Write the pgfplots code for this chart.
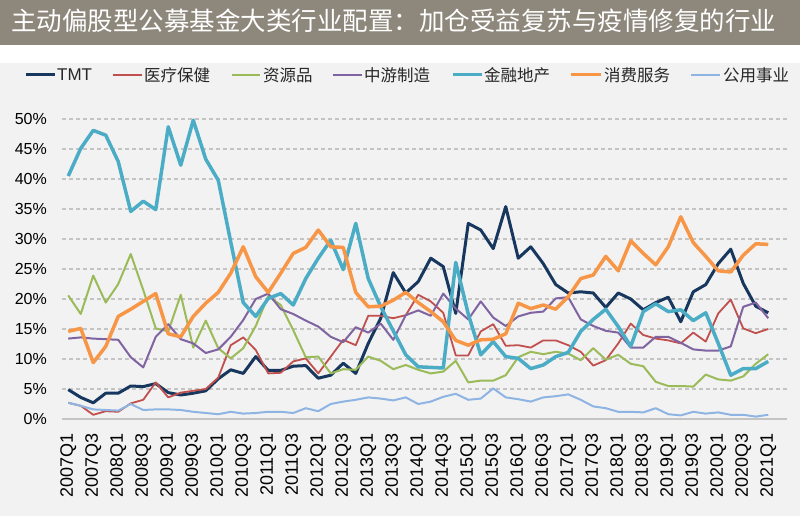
\documentclass[border=0pt]{standalone}
\usepackage{fontspec}
\setmainfont{Liberation Sans}
\newfontfamily\cjk{Noto Sans CJK SC}
\usepackage{pgfplots}
\usepackage{pgfplotstable}
\pgfplotsset{compat=1.18}
\usetikzlibrary{backgrounds}

\definecolor{titlebg}{RGB}{142,135,124}
\definecolor{panel}{RGB}{242,242,242}
\definecolor{gridc}{RGB}{196,196,196}
\definecolor{ctmt}{RGB}{23,55,94}
\definecolor{cmed}{RGB}{192,80,77}
\definecolor{cres}{RGB}{155,187,89}
\definecolor{cmid}{RGB}{128,100,162}
\definecolor{cfin}{RGB}{75,172,198}
\definecolor{ccon}{RGB}{247,150,70}
\definecolor{cutil}{RGB}{141,180,226}

% i = quarter index from 2007Q1; shares in %
\pgfplotstableread{
i  tmt  med  res  mid  fin  con  util
0  4.9  2.7  20.6 13.4 40.5 14.6 2.7
1  3.6  2.2  17.5 13.6 45.1 15.1 2.2
2  2.7  0.7  23.9 13.4 48.1 9.4  1.6
3  4.3  1.3  19.4 13.3 47.3 12.1 1.5
4  4.3  1.2  22.5 13.2 42.9 17.1 1.4
5  5.5  2.6  27.5 10.3 34.6 18.3 2.5
6  5.4  3.2  21.5 8.6  36.3 19.6 1.5
7  5.9  6.1  15.1 13.7 34.9 20.9 1.6
8  4.4  3.6  14.6 15.8 48.7 14.2 1.6
9  4.0  4.4  20.7 13.3 42.3 13.7 1.5
10 4.3  4.7  11.9 12.6 49.8 17.1 1.2
11 4.7  5.0  16.4 11.0 43.3 19.3 1.0
12 6.7  6.9  11.8 11.6 39.8 21.1 0.8
13 8.2  12.3 10.1 13.7 29.5 24.3 1.2
14 7.6  13.6 11.8 16.5 19.4 28.7 0.9
15 10.4 11.5 15.5 20.0 17.1 23.7 1.0
16 8.1  7.6  20.5 20.9 20.1 21.1 1.2
17 8.1  7.7  19.0 18.3 20.9 24.3 1.2
18 8.8  9.6  14.8 17.5 19.0 27.6 1.0
19 8.9  10.1 10.3 16.4 23.4 28.6 1.8
20 6.8  7.6  10.4 15.4 26.8 31.5 1.3
21 7.3  10.4 7.6  13.7 29.8 28.7 2.5
22 9.3  13.2 8.3  12.8 24.9 28.6 2.9
23 7.6  12.3 8.2  15.3 32.6 21.1 3.2
24 12.6 17.2 10.4 14.4 23.4 18.7 3.6
25 16.8 17.2 9.7  15.9 18.7 18.8 3.4
26 24.4 16.8 8.3  13.2 14.7 19.8 3.1
27 21.0 17.3 9.0  17.3 10.7 21.1 3.6
28 22.9 20.7 8.2  18.1 8.7  19.4 2.5
29 26.8 19.6 7.6  17.2 8.6  17.9 2.9
30 25.4 17.7 7.9  20.9 8.5  16.2 3.7
31 17.6 10.6 9.7  18.4 26.1 13.1 4.2
32 32.6 10.6 6.1  16.6 17.5 12.3 3.2
33 31.5 14.6 6.4  19.6 10.7 13.2 3.4
34 28.4 15.8 6.4  16.9 12.9 13.3 5.1
35 35.4 12.2 7.3  15.5 10.4 14.2 3.6
36 26.8 12.3 10.3 17.1 10.1 19.3 3.3
37 28.7 11.9 11.2 17.7 8.4  18.4 2.9
38 25.9 13.1 10.8 17.9 9.0  19.0 3.6
39 22.4 13.1 11.2 20.1 10.4 18.3 3.8
40 21.0 12.3 10.9 20.3 11.1 20.4 4.1
41 21.2 11.2 9.8  16.6 14.6 23.4 3.2
42 21.0 8.9  11.8 15.5 16.6 24.0 2.1
43 18.6 9.8  9.9  14.7 18.3 27.1 1.8
44 21.0 12.6 10.7 14.4 15.4 24.7 1.2
45 20.0 15.9 9.2  11.9 12.1 29.7 1.2
46 18.2 14.0 8.8  11.9 17.9 27.6 1.1
47 19.4 13.4 6.2  13.7 19.2 25.7 1.8
48 20.3 13.1 5.5  13.7 17.9 28.7 0.8
49 16.2 12.6 5.5  12.7 18.2 33.7 0.6
50 21.2 14.4 5.4  11.6 16.4 29.4 1.2
51 22.4 12.9 7.4  11.4 17.7 27.1 0.9
52 25.9 17.6 6.6  11.4 12.6 24.7 1.1
53 28.3 19.9 6.4  12.1 7.3  24.5 0.7
54 22.6 15.1 7.1  18.7 8.4  27.3 0.7
55 18.8 14.3 9.2  19.4 8.4  29.2 0.4
56 17.7 15.0 10.8 16.8 9.6  29.1 0.7
}\datatable

\begin{document}
\begin{tikzpicture}
\begin{axis}[
  scale only axis, width=725pt, height=300pt,
  xmin=-0.5, xmax=57.5, ymin=0, ymax=50,
  clip=false,
  axis line style={draw=none},
  major tick length=0pt,
  ytick={0,5,...,50},
  yticklabels={0\%,5\%,10\%,15\%,20\%,25\%,30\%,35\%,40\%,45\%,50\%},
  yticklabel style={anchor=east, inner xsep=15pt, inner ysep=0pt, font=\fontsize{16}{16}\selectfont, text=black},
  xtick={0,2,...,56},
  xticklabels={2007Q1,2007Q3,2008Q1,2008Q3,2009Q1,2009Q3,2010Q1,2010Q3,2011Q1,2011Q3,2012Q1,2012Q3,2013Q1,2013Q3,2014Q1,2014Q3,2015Q1,2015Q3,2016Q1,2016Q3,2017Q1,2017Q3,2018Q1,2018Q3,2019Q1,2019Q3,2020Q1,2020Q3,2021Q1},
  xticklabel style={rotate=90, anchor=east, inner xsep=14pt, inner ysep=0pt, font=\fontsize{18}{18}\selectfont, text=black},
  every axis plot/.append style={line join=round, mark=none},
]
\coordinate (O) at (rel axis cs:0,0);
\addplot[ctmt, line width=3pt] table[x=i, y=tmt] {\datatable};
\addplot[cmed, line width=1.8pt] table[x=i, y=med] {\datatable};
\addplot[cres, line width=2pt] table[x=i, y=res] {\datatable};
\addplot[cmid, line width=2pt] table[x=i, y=mid] {\datatable};
\addplot[cfin, line width=3.5pt] table[x=i, y=fin] {\datatable};
\addplot[ccon, line width=3.5pt] table[x=i, y=con] {\datatable};
\addplot[cutil, line width=2pt] table[x=i, y=util] {\datatable};
\end{axis}

% page frame in pixel units, origin at the page's lower left corner
\begin{scope}[shift={(O)}, xshift=-62pt, yshift=-97pt, x=1pt, y=1pt]
\begin{scope}[on background layer]
\fill[panel] (0,0) rectangle (800,453);
\fill[white] (0,453) rectangle (800,471);
\fill[titlebg] (0,471) rectangle (800,516);
% horizontal grid: 6 px per percentage point, 0% at y=97
\foreach \k in {1,...,10}
  \draw[gridc, line width=1.5pt, dash pattern=on 4pt off 3pt] (62,97+30*\k) -- (787,97+30*\k);
\draw[gridc, line width=2pt] (62,97) -- (787,97);
\end{scope}
\node[anchor=west, inner sep=0pt, text=white, font=\cjk\fontsize{25.5}{26}\selectfont] at (11,495) {主动偏股型公募基金大类行业配置：加仓受益复苏与疫情修复的行业};

\begin{scope}[font=\cjk\fontsize{16.5}{17}\selectfont, every node/.style={anchor=west, inner sep=0pt, text=black!85}]
\draw[ctmt, line width=3pt] (26,441) -- (55,441);
\node[font=\fontsize{17}{17}\selectfont] at (57,441) {TMT};
\draw[cmed, line width=2pt] (113,441) -- (142,441);
\node at (144,441) {医疗保健};
\draw[cres, line width=2pt] (232,441) -- (260,441);
\node at (263,441) {资源品};
\draw[cmid, line width=2pt] (333,441) -- (362,441);
\node at (364,441) {中游制造};
\draw[cfin, line width=3pt] (453,441) -- (482,441);
\node at (484,441) {金融地产};
\draw[ccon, line width=3pt] (571,441) -- (601,441);
\node at (604,441) {消费服务};
\draw[cutil, line width=2pt] (691,441) -- (720,441);
\node at (723,441) {公用事业};
\end{scope}

\pgfresetboundingbox
\path[use as bounding box] (0,0) rectangle (800,516);
\end{scope}
\end{tikzpicture}
\end{document}
